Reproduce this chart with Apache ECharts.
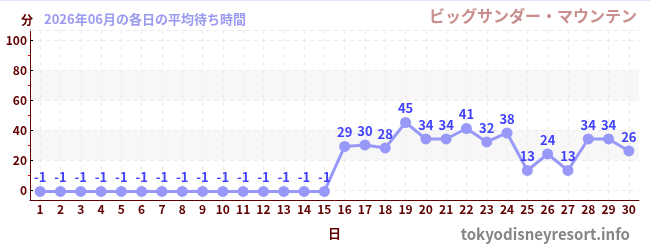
<!DOCTYPE html>
<html><head><meta charset="utf-8">
<script src="https://cdn.jsdelivr.net/npm/echarts@6/dist/echarts.min.js"></script>
<style>html,body{margin:0;padding:0;background:#fff}#c{width:650px;height:250px}</style>
</head><body><div id="c"></div>
<script>
const days = ['1','2','3','4','5','6','7','8','9','10','11','12','13','14','15','16','17','18','19','20','21','22','23','24','25','26','27','28','29','30'];
const waits = [-1,-1,-1,-1,-1,-1,-1,-1,-1,-1,-1,-1,-1,-1,-1,29,30,28,45,34,34,41,32,38,13,24,13,34,34,26];
const yTicks = [0,20,40,60,80,100];
const yMinorTicks = [10,30,50,70,90];
const FONT = '"Noto Sans CJK JP", sans-serif';
const chart = echarts.init(document.getElementById('c'), null, {renderer:'canvas'});
chart.setOption({
  animation:false,
  textStyle:{fontFamily:FONT},
  title:[
    {text:'分', left:16, top:9, textStyle:{fontSize:12, fontWeight:'bold', color:'#600000', fontFamily:FONT}},
    {text:'2026年06月の各日の平均待ち時間', left:39, top:8, textStyle:{fontSize:13, fontWeight:'bold', color:'#9a9af0', fontFamily:FONT}},
    {text:'ビッグサンダー・マウンテン', right:8, top:3, textStyle:{fontSize:16, fontWeight:'bold', color:'#c88e8e', fontFamily:FONT}},
    {text:'tokyodisneyresort.info', right:15, top:222, textStyle:{fontSize:15, fontWeight:'bold', color:'#858585', fontFamily:FONT}}
  ],
  graphic:[{type:'line', shape:{x1:0,y1:0.5,x2:650,y2:0.5}, style:{stroke:'#e2e2fa', lineWidth:1}}],
  grid:{left:30, right:11, top:30, bottom:50},
  xAxis:[{
    type:'category', data:days, boundaryGap:true,
    name:'日', nameLocation:'middle', nameGap:27,
    nameTextStyle:{fontSize:13, fontWeight:'bold', color:'#600000', fontFamily:FONT},
    axisLine:{onZero:false, lineStyle:{color:'#600000', width:1}},
    axisTick:{alignWithLabel:true, length:4, lineStyle:{color:'#666'}},
    axisLabel:{interval:0, fontSize:12, fontWeight:'bold', color:'#600000', margin:3, fontFamily:FONT},
    splitLine:{show:true, alignWithLabel:true, lineStyle:{color:'#ececec', type:[4,4]}}
  },{
    type:'category', data:days, position:'top',
    axisLine:{show:true, onZero:false, lineStyle:{color:'#ececec', type:[4,4]}},
    axisTick:{show:false}, axisLabel:{show:false}, splitLine:{show:false}
  }],
  yAxis:[{
    type:'value', min:-6.7, max:106.7,
    axisLine:{show:true, onZero:false, lineStyle:{color:'#600000', width:1}},
    axisTick:{show:true, inside:true, length:3, customValues:yTicks, lineStyle:{color:'#000'}},
    axisLabel:{customValues:yTicks, fontSize:12, fontWeight:'bold', color:'#600000', margin:3, fontFamily:FONT},
    splitLine:{show:true, lineStyle:{color:'#ececec', type:[4,4]}},
    splitArea:{show:true, areaStyle:{color:['rgba(255,255,255,0)','#f7f7f7']}}
  },{
    type:'value', min:-6.7, max:106.7, position:'left',
    axisLine:{show:false, onZero:false},
    axisTick:{show:true, length:2, customValues:yMinorTicks, lineStyle:{color:'#ee0000'}},
    axisLabel:{show:false, customValues:yMinorTicks},
    splitLine:{show:false}
  }],
  series:[{
    type:'line', data:waits, xAxisIndex:0, yAxisIndex:0,
    symbol:'circle', symbolSize:11,
    lineStyle:{color:'#9898f8', width:3},
    itemStyle:{color:'#9898f8'},
    label:{show:true, position:'top', distance:2, fontSize:13, fontWeight:'bold', color:'#4040ff', fontFamily:FONT}
  }]
});
</script></body></html>
